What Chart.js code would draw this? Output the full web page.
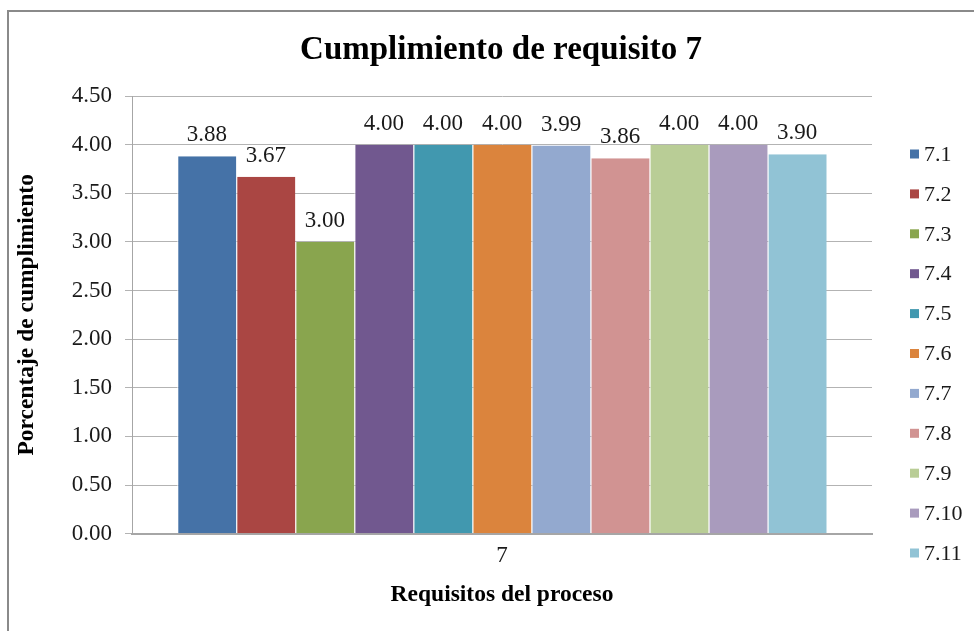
<!DOCTYPE html>
<html>
<head>
<meta charset="utf-8">
<script src="https://cdn.jsdelivr.net/npm/chart.js@4/dist/chart.umd.min.js"></script>
<style>
  html, body { margin: 0; padding: 0; background: #fff; overflow: hidden; width: 974px; height: 631px; }
  #frame {
    position: absolute; left: 7px; top: 10px;
    width: 994px; height: 619px;
    border-left: 2px solid #8a8a8a; border-top: 2px solid #8a8a8a;
  }
  #frame canvas { display: block; }
</style>
</head>
<body>
<div id="frame"><canvas id="c" width="994" height="619"></canvas></div>
<script>
// Requirement 7 compliance scores by sub-requirement
const categories = ['7'];
const seriesLabels = ['7.1', '7.2', '7.3', '7.4', '7.5', '7.6', '7.7', '7.8', '7.9', '7.10', '7.11'];
const seriesValues = [3.88, 3.67, 3.00, 4.00, 4.00, 4.00, 3.99, 3.86, 4.00, 4.00, 3.90];
const seriesColors = ['#4572A7', '#AA4643', '#89A54E', '#71588F', '#4198AF', '#DB843D',
                      '#93A9CF', '#D19392', '#B9CD96', '#A99BBD', '#91C3D5'];
const yTicks = [0, 0.5, 1, 1.5, 2, 2.5, 3, 3.5, 4, 4.5];
const chartTitle = 'Cumplimiento de requisito 7';

const SERIF = "'Liberation Serif', 'Times New Roman', serif";
Chart.defaults.font.family = SERIF;
Chart.defaults.color = '#1a1a1a';

// Chart heading, centred over the whole framed panel
const heading = {
  id: 'heading',
  afterDraw(chart) {
    const ctx = chart.ctx;
    ctx.save();
    ctx.font = 'bold 33px ' + SERIF;
    ctx.fillStyle = '#000';
    ctx.textAlign = 'center';
    ctx.textBaseline = 'middle';
    ctx.fillText(chartTitle, 492, 38);
    ctx.restore();
  }
};

// Value labels above each bar
const valueLabels = {
  id: 'valueLabels',
  afterDatasetsDraw(chart) {
    const ctx = chart.ctx;
    ctx.save();
    ctx.font = '23px ' + SERIF;
    ctx.fillStyle = '#1a1a1a';
    ctx.textAlign = 'center';
    ctx.textBaseline = 'alphabetic';
    chart.data.datasets.forEach((ds, i) => {
      const meta = chart.getDatasetMeta(i);
      meta.data.forEach((bar, j) => {
        ctx.fillText(Number(ds.data[j]).toFixed(2), bar.x, bar.y - 15);
      });
    });
    ctx.restore();
  }
};

// Vertical legend on the right
const sideLegend = {
  id: 'sideLegend',
  afterDraw(chart) {
    const ctx = chart.ctx;
    const x0 = chart.chartArea.right + 38;
    const y0 = chart.chartArea.top + 58;
    const step = 39.9;
    ctx.save();
    ctx.font = '22px ' + SERIF;
    ctx.textAlign = 'left';
    ctx.textBaseline = 'middle';
    chart.data.datasets.forEach((ds, i) => {
      const cy = y0 + i * step;
      ctx.fillStyle = ds.backgroundColor;
      ctx.fillRect(x0, cy - 4.5, 9, 9);
      ctx.fillStyle = '#1a1a1a';
      ctx.fillText(ds.label, x0 + 14, cy + 1);
    });
    ctx.restore();
  }
};

const datasets = seriesLabels.map((label, i) => ({
  label: label,
  data: [seriesValues[i]],
  backgroundColor: seriesColors[i],
  borderColor: '#ffffff',
  borderWidth: { left: 1, right: 0, top: 0, bottom: 0 },
  borderSkipped: false,
  categoryPercentage: 0.8776,
  barPercentage: 1.0
}));

new Chart(document.getElementById('c'), {
  type: 'bar',
  data: { labels: categories, datasets: datasets },
  plugins: [valueLabels, sideLegend, heading],
  options: {
    responsive: false,
    animation: false,
    layout: { padding: { left: 0, right: 131, top: 84, bottom: 22 } },
    plugins: {
      legend: { display: false },
      tooltip: { enabled: false },
      title: { display: false }
    },
    scales: {
      x: {
        grid: { display: false },
        border: { display: true, color: '#a6a6a6', width: 2 },
        ticks: { padding: 0.5, font: { size: 23 }, color: '#1a1a1a' },
        title: {
          display: true,
          text: 'Requisitos del proceso',
          font: { size: 23.5, weight: 'bold', family: SERIF },
          color: '#000',
          padding: { top: 10.5, bottom: 0 }
        }
      },
      y: {
        min: 0,
        max: 4.5,
        afterBuildTicks(scale) { scale.ticks = yTicks.map(v => ({ value: v })); },
        afterFit(scale) { scale.width = 123; },
        grid: { color: '#b3b3b3', lineWidth: 1, tickLength: 7, drawTicks: true },
        border: { display: true, color: '#a6a6a6', width: 1 },
        ticks: {
          padding: 13,
          font: { size: 23 },
          color: '#1a1a1a',
          callback: (v) => Number(v).toFixed(2)
        },
        title: {
          display: true,
          text: 'Porcentaje de cumplimiento',
          font: { size: 23.5, weight: 'bold', family: SERIF },
          color: '#000',
          padding: { top: 4, bottom: 0 }
        }
      }
    }
  }
});
</script>
</body>
</html>
